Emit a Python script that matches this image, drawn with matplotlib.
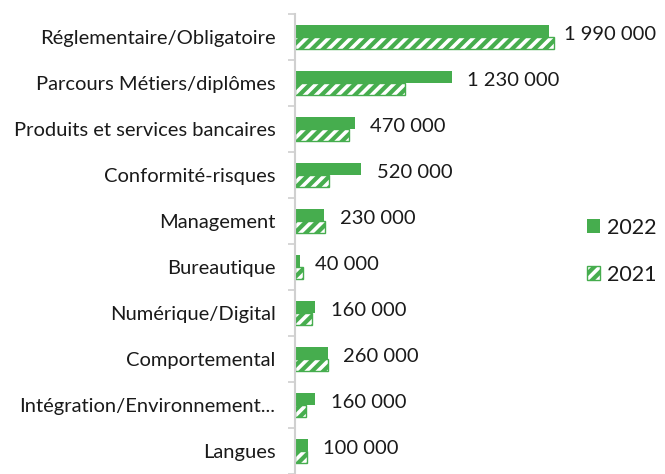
import matplotlib.pyplot as plt
from matplotlib.patches import Patch

# Données
categories = ['Réglementaire/Obligatoire', 'Parcours Métiers/diplômes',
              'Produits et services bancaires', 'Conformité-risques', 'Management',
              'Bureautique', 'Numérique/Digital', 'Comportemental',
              'Intégration/Environnement...', 'Langues']
v2022 = [1990000, 1230000, 470000, 520000, 230000, 40000, 160000, 260000, 160000, 100000]
v2021 = [2030000, 865000, 420000, 270000, 237000, 65000, 135000, 255000, 86000, 97000]
labels = ['1 990 000', '1 230 000', '470 000', '520 000', '230 000',
          '40 000', '160 000', '260 000', '160 000', '100 000']

GREEN = '#46ad4e'
TXT = '#1a1a1a'

plt.rcParams['font.family'] = ['Lato', 'DejaVu Sans']
plt.rcParams['hatch.linewidth'] = 2.6

fig = plt.figure(figsize=(6.65, 4.74), dpi=100)
ax = fig.add_axes([0.4436, 0.0, 0.5376, 0.9705])

pos = list(range(len(categories)))
h = 0.27
ax.barh([p - h / 2 for p in pos], v2022, height=h, color=GREEN, linewidth=0)
ax.barh([p + h / 2 for p in pos], v2021, height=h, color=GREEN, edgecolor='white',
        hatch='///', linewidth=0)
ax.barh([p + h / 2 for p in pos], v2021, height=h, fill=False, edgecolor=GREEN, linewidth=1)

for p, v, lab in zip(pos, v2022, labels):
    ax.annotate(lab, (v, p - h / 2), xytext=(11, -2.5), textcoords='offset points',
                va='center', ha='left', fontsize=14.5, color=TXT)

ax.set_xlim(0, 2800000)
ax.set_ylim(len(categories) - 0.5, -0.5)
ax.set_yticks(pos)
ax.set_yticklabels(categories, fontsize=14.5, color=TXT)
ax.tick_params(axis='y', which='major', length=0, pad=14)
ax.set_yticks([p - 0.5 for p in pos] + [len(pos) - 0.5], minor=True)
ax.tick_params(axis='y', which='minor', length=5, color='#d0d0d0', width=1.2)
ax.set_xticks([])
for s in ['top', 'right', 'bottom']:
    ax.spines[s].set_visible(False)
ax.spines['left'].set_color('#d0d0d0')
ax.spines['left'].set_linewidth(1.5)

h22 = Patch(facecolor=GREEN, linewidth=0)
h21 = (Patch(facecolor=GREEN, edgecolor='white', hatch='///', linewidth=0),
       Patch(fill=False, edgecolor=GREEN, linewidth=1))
leg = fig.legend([h22, h21], ['2022', '2021'], loc='center left', bbox_to_anchor=(0.853, 0.47),
                 frameon=False, fontsize=15.5, handlelength=0.6, handleheight=0.6,
                 handletextpad=0.35, labelspacing=1.25, labelcolor=TXT)

fig.savefig('out.png', dpi=100)
